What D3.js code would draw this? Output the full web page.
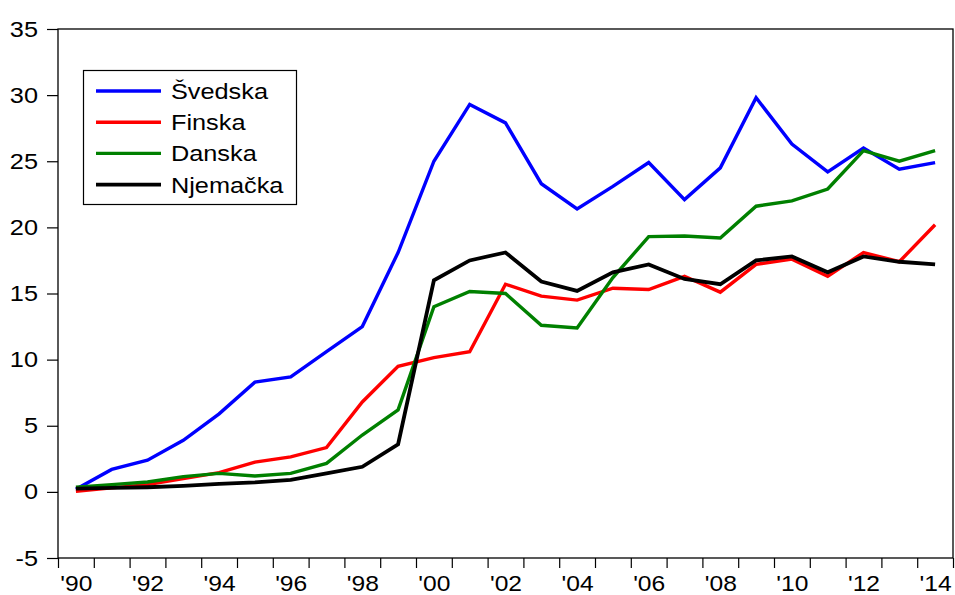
<!DOCTYPE html>
<html>
<head>
<meta charset="utf-8">
<script src="https://cdn.jsdelivr.net/npm/d3@7"></script>
<style>
  body { margin: 0; background: #fff; }
  svg { display: block; }
  text { font-family: Arial, "Liberation Sans", sans-serif; fill: #000; }
</style>
</head>
<body>
<svg id="chart" width="955" height="595"></svg>
<script>
// data
let years = [1990, 1991, 1992, 1993, 1994, 1995, 1996, 1997, 1998, 1999, 2000, 2001, 2002,
             2003, 2004, 2005, 2006, 2007, 2008, 2009, 2010, 2011, 2012, 2013, 2014];
let svedska = [0.2, 1.7, 2.4, 3.9, 5.9, 8.3, 8.7, 10.6, 12.5, 18.1, 25.0, 29.3, 27.9,
               23.3, 21.4, 23.1, 24.9, 22.1, 24.5, 29.8, 26.3, 24.2, 26.0, 24.4, 24.9];
let finska = [0.05, 0.3, 0.55, 1.0, 1.45, 2.25, 2.65, 3.35, 6.8, 9.5, 10.15, 10.6, 15.7,
              14.8, 14.5, 15.4, 15.3, 16.3, 15.1, 17.2, 17.6, 16.3, 18.1, 17.4, 20.2];
let danska = [0.35, 0.55, 0.75, 1.15, 1.4, 1.2, 1.4, 2.15, 4.3, 6.2, 14.0, 15.15, 15.0,
              12.6, 12.4, 16.2, 19.3, 19.35, 19.2, 21.6, 22.0, 22.9, 25.8, 25.0, 25.8];
let njemacka = [0.25, 0.3, 0.35, 0.45, 0.6, 0.72, 0.9, 1.4, 1.9, 3.6, 16.0, 17.5, 18.1,
                15.9, 15.2, 16.6, 17.2, 16.1, 15.7, 17.5, 17.8, 16.6, 17.8, 17.4, 17.2];
let seriesNames = ["Švedska", "Finska", "Danska", "Njemačka"];
let seriesColors = ["#0000ff", "#ff0000", "#008000", "#000000"];
let yTicks = [-5, 0, 5, 10, 15, 20, 25, 30, 35];
let xLabelYears = [1990, 1992, 1994, 1996, 1998, 2000, 2002, 2004, 2006, 2008, 2010, 2012, 2014];

let series = [svedska, finska, danska, njemacka];

let svg = d3.select("#chart");
let plotLeft = 58, plotRight = 953, plotTop = 29, plotBottom = 558;

// each year takes one slot, the point sits in its middle
let x = d3.scaleLinear().domain([years[0], years[years.length - 1] + 1]).range([plotLeft, plotRight]);
let y = d3.scaleLinear().domain([-5, 35]).range([plotBottom, plotTop]);

// y axis (plain hyphen for the minus, like the original)
let yAxis = svg.append("g")
    .attr("transform", "translate(" + plotLeft + ",0)")
    .call(d3.axisLeft(y).tickValues(yTicks).tickSize(11).tickPadding(8).tickFormat(v => String(v)));
yAxis.select(".domain").remove();
// the original text is drawn a bit wide, so stretch it sideways
yAxis.selectAll("text")
    .style("font-size", "22px")
    .attr("x", 0)
    .attr("transform", "translate(-20,0) scale(1.15,1)");

// x axis: tick marks at year boundaries, labels every second year
let xTickAxis = svg.append("g")
    .attr("transform", "translate(0," + plotBottom + ")")
    .call(d3.axisBottom(x).tickValues(d3.range(years[0], years[years.length - 1] + 2)).tickSize(10).tickFormat(""));
xTickAxis.select(".domain").remove();

let xLabelAxis = svg.append("g")
    .attr("transform", "translate(0," + plotBottom + ")")
    .call(d3.axisBottom(x).tickValues(xLabelYears.map(v => v + 0.5)).tickSize(0).tickPadding(17)
        .tickFormat(v => "'" + String(Math.floor(v)).slice(2)));
xLabelAxis.select(".domain").remove();
xLabelAxis.selectAll("text")
    .style("font-size", "22px")
    .attr("transform", "scale(1.12,1)");

svg.selectAll(".tick line").attr("stroke", "#000").attr("stroke-width", 1.2);

// frame
svg.append("rect")
    .attr("x", plotLeft).attr("y", plotTop)
    .attr("width", plotRight - plotLeft).attr("height", plotBottom - plotTop)
    .attr("fill", "none").attr("stroke", "#000").attr("stroke-width", 1.3);

// lines
let line = d3.line()
    .x((d, i) => x(years[i] + 0.5))
    .y(d => y(d));

svg.append("g").selectAll("path")
    .data(series)
    .enter().append("path")
    .attr("d", line)
    .attr("fill", "none")
    .attr("stroke", (d, i) => seriesColors[i])
    .attr("stroke-width", (d, i) => i === 3 ? 3.8 : 3.4)
    .attr("stroke-linejoin", "miter");

// legend
let legend = svg.append("g");
legend.append("rect")
    .attr("x", 83.5).attr("y", 70.5)
    .attr("width", 213).attr("height", 134)
    .attr("fill", "#fff").attr("stroke", "#000").attr("stroke-width", 1.2);

seriesNames.forEach((name, i) => {
    let ry = 91 + i * 31.2;
    legend.append("line")
        .attr("x1", 96).attr("x2", 161)
        .attr("y1", ry).attr("y2", ry)
        .attr("stroke", seriesColors[i])
        .attr("stroke-width", i === 3 ? 3.8 : 3.4);
    legend.append("text")
        .attr("transform", "translate(171," + ry + ") scale(1.15,1)")
        .attr("dy", "0.36em")
        .style("font-size", "22px")
        .text(name);
});
</script>
</body>
</html>
